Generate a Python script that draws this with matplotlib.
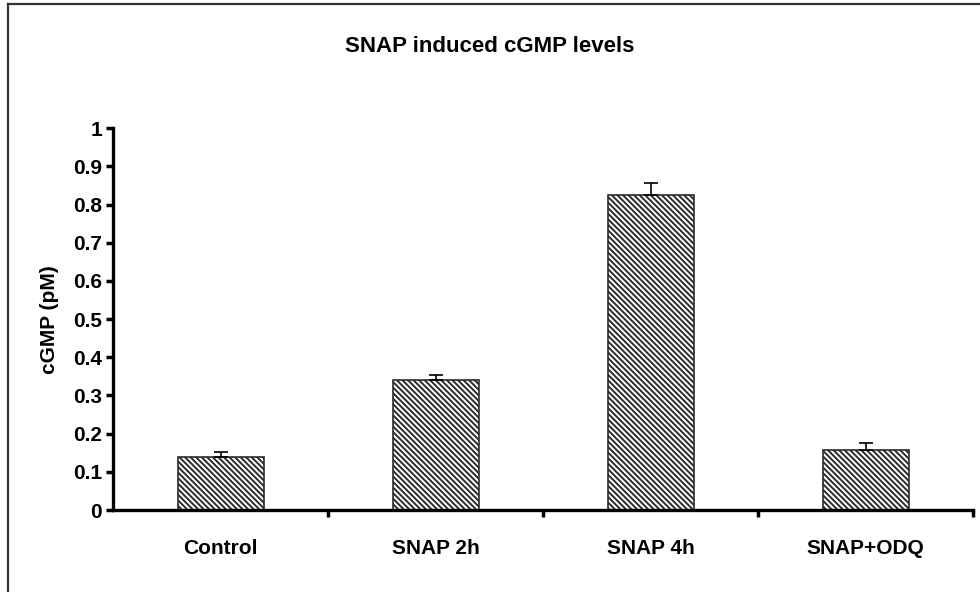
import matplotlib
matplotlib.use("Agg")
import matplotlib.pyplot as plt
from matplotlib.lines import Line2D
import numpy as np

categories = ["Control", "SNAP 2h", "SNAP 4h", "SNAP+ODQ"]
values = [0.140, 0.341, 0.825, 0.157]
errors = [0.012, 0.013, 0.032, 0.018]
yticks = [0, 0.1, 0.2, 0.3, 0.4, 0.5, 0.6, 0.7, 0.8, 0.9, 1]
ytick_labels = ["0", "0.1", "0.2", "0.3", "0.4", "0.5", "0.6", "0.7", "0.8", "0.9", "1"]

plt.rcParams['font.family'] = ['Liberation Sans', 'DejaVu Sans']
plt.rcParams['hatch.linewidth'] = 1.4

fig = plt.figure(figsize=(9.8, 5.92), dpi=100)
ax = fig.add_axes([113/980, 1 - 510/592, 860/980, (510 - 128.3)/592])

x = np.arange(len(categories))
ax.bar(x, values, width=0.40, color='white', edgecolor='#2b2b2b', linewidth=1.2,
       hatch='\\' * 6, zorder=2)
ax.errorbar(x, values, yerr=[np.zeros(len(errors)), errors], fmt='none',
            ecolor='black', elinewidth=1.2, capsize=5, capthick=1.2, zorder=3)

ax.set_xlim(-0.5, len(categories) - 0.5)
ax.set_ylim(0, 1)
ax.set_yticks(yticks)
ax.set_yticklabels(ytick_labels, fontsize=15, fontweight='bold')
ax.set_xticks(x)
ax.set_xticklabels(categories, fontsize=15, fontweight='bold')
ax.tick_params(axis='x', length=0, pad=21)
ax.set_xticks(np.arange(len(categories)) + 0.5, minor=True)
ax.tick_params(axis='x', which='minor', length=5, width=2.5, direction='out')
ax.tick_params(axis='y', length=5, width=2.5, direction='out', pad=3)

for s in ['top', 'right']:
    ax.spines[s].set_visible(False)
for s in ['left', 'bottom']:
    ax.spines[s].set_linewidth(2.4)

ax.set_ylabel("cGMP (pM)", fontsize=15, fontweight='bold', labelpad=10)
fig.text(0.5, 1 - 46/592, "SNAP induced cGMP levels", ha='center', va='center',
         fontsize=16, fontweight='bold')

# outer frame (top and left)
fig.add_artist(Line2D([8/980, 1.0], [1 - 4/592, 1 - 4/592], color='#333333', lw=1.6,
                      transform=fig.transFigure))
fig.add_artist(Line2D([8/980, 8/980], [0, 1 - 4/592], color='#333333', lw=1.6,
                      transform=fig.transFigure))

fig.savefig("out.png", dpi=100)
